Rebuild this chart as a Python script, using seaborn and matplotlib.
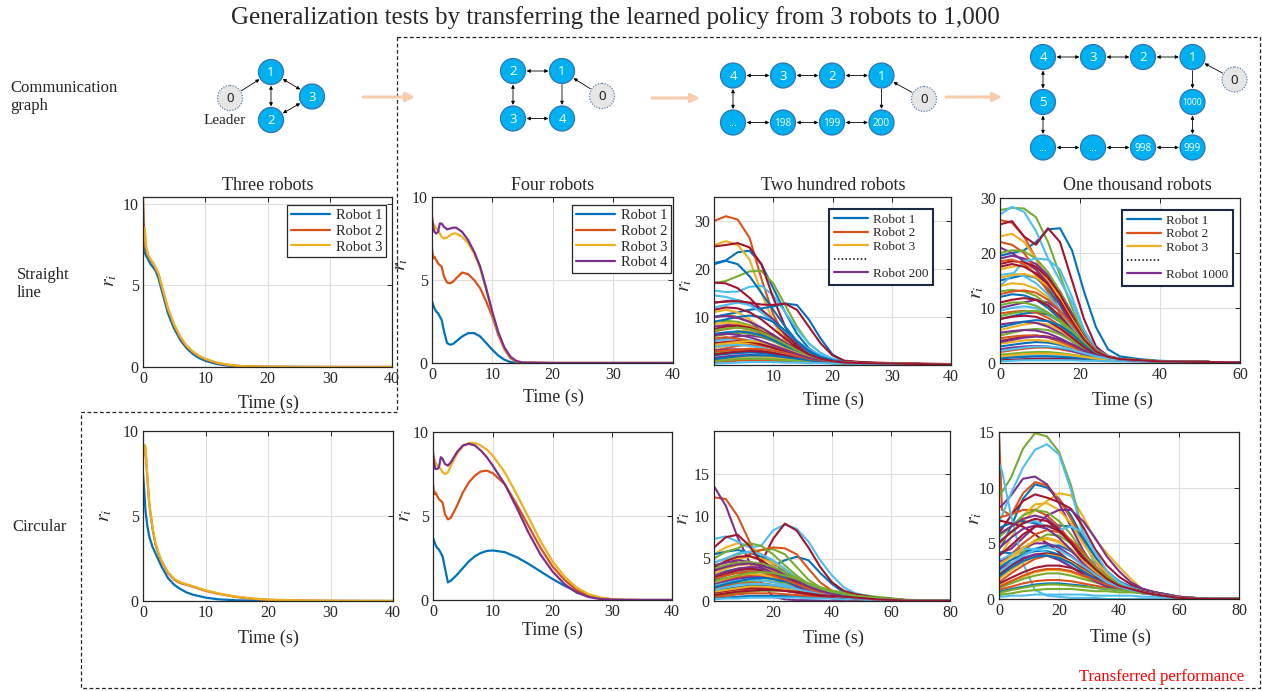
import numpy as np
import pandas as pd
import matplotlib
matplotlib.use("Agg")
import matplotlib.pyplot as plt
import seaborn as sns
from matplotlib.patches import Circle
from matplotlib.lines import Line2D

# ---------------------------------------------------------------- data
MATLAB = ["#0072BD", "#D95319", "#EDB120", "#7E2F8E", "#77AC30", "#4DBEEE", "#A2142F"]

# Three robots, straight line
T3S = [0, 0.15, 0.3, 0.5, 0.8, 1.2, 1.6, 2, 2.5, 3, 3.5, 4, 4.5, 5, 6, 7, 8, 9, 10, 12, 14, 16, 20, 30, 40]
S3_R1 = [7.5, 7.2, 7.0, 6.8, 6.6, 6.3, 6.1, 5.9, 5.4, 4.7, 4.0, 3.3, 2.8, 2.35, 1.65, 1.15, 0.8, 0.55, 0.38, 0.17, 0.07, 0.03, 0.01, 0, 0]
S3_R2 = [10.4, 8.6, 7.6, 7.2, 6.85, 6.55, 6.35, 6.05, 5.65, 4.95, 4.25, 3.55, 3.05, 2.55, 1.8, 1.27, 0.92, 0.66, 0.48, 0.24, 0.11, 0.05, 0.01, 0, 0]
S3_R3 = [7.4, 8.0, 8.5, 7.4, 6.9, 6.6, 6.4, 6.1, 5.7, 5.0, 4.3, 3.6, 3.1, 2.6, 1.85, 1.3, 0.95, 0.68, 0.5, 0.25, 0.12, 0.05, 0.01, 0, 0]

# Four robots, straight line
T4S = [0, 0.2, 0.4, 0.7, 1, 1.3, 1.6, 2, 2.5, 3, 3.5, 4, 5, 6, 7, 8, 9, 10, 11, 12, 13, 14, 15, 20, 30, 40]
S4_R1 = [3.7, 3.5, 3.3, 3.1, 3.0, 2.8, 2.6, 1.9, 1.2, 1.1, 1.15, 1.3, 1.6, 1.8, 1.8, 1.6, 1.2, 0.8, 0.45, 0.2, 0.06, 0.01, 0, 0, 0, 0]
S4_R2 = [6.9, 6.3, 6.4, 6.2, 6.0, 5.9, 5.8, 5.2, 4.85, 4.8, 4.9, 5.1, 5.45, 5.35, 5.0, 4.5, 3.7, 2.8, 1.7, 0.85, 0.3, 0.08, 0.02, 0, 0, 0]
S4_R3 = [8.6, 8.4, 8.3, 8.1, 8.0, 7.8, 7.6, 7.5, 7.55, 7.7, 7.8, 7.8, 7.6, 7.2, 6.6, 5.7, 4.4, 3.0, 1.8, 0.9, 0.35, 0.1, 0.03, 0, 0, 0]
S4_R4 = [8.8, 8.2, 7.9, 7.8, 7.9, 8.4, 8.4, 8.2, 8.05, 8.1, 8.15, 8.15, 7.9, 7.4, 6.7, 5.8, 4.5, 3.1, 1.85, 0.95, 0.38, 0.12, 0.03, 0, 0, 0]

# Two hundred robots, straight line (representative curves)
T200S = [0, 2, 4, 6, 8, 10, 12, 14, 16, 18, 20, 22, 25, 30, 35, 40]
S200 = [
    [21.2, 21.8, 23.5, 23.8, 21, 16, 11, 6.5, 3.5, 1.8, 1.0, 0.6, 0.4, 0.2, 0.1, 0.05],
    [30, 31, 30.3, 26.5, 18, 10.5, 6, 3, 1.5, 0.8, 0.5, 0.4, 0.3, 0.2, 0.1, 0.05],
    [25, 25.8, 25, 22, 15, 9, 5, 2.5, 1.2, 0.7, 0.5, 0.4, 0.3, 0.2, 0.1, 0.05],
    [13, 13.3, 13.5, 12.8, 11.5, 9.5, 7, 4.5, 2.5, 1.3, 0.7, 0.5, 0.4, 0.3, 0.2, 0.1],
    [17, 17.5, 18.5, 19.5, 19.6, 17, 12.5, 8, 4.5, 2.5, 1.2, 0.7, 0.5, 0.3, 0.2, 0.1],
    [15.5, 15.2, 15.3, 16.3, 16.5, 14.5, 11, 7.5, 4.5, 2.5, 1.3, 0.8, 0.5, 0.3, 0.2, 0.1],
    [24.7, 25, 25.4, 24.5, 21, 14, 8, 4.2, 2, 1, 0.6, 0.4, 0.3, 0.2, 0.1, 0.05],
    [21, 21.7, 21, 18.5, 15, 11.5, 8, 5, 2.8, 1.5, 0.8, 0.5, 0.4, 0.3, 0.2, 0.1],
    [10, 10.5, 10, 9, 7.5, 6, 4.5, 3, 1.8, 1, 0.6, 0.4, 0.3, 0.2, 0.1, 0.05],
    [6, 6.5, 7, 7.2, 7, 6, 4.5, 3, 1.8, 1, 0.6, 0.4, 0.3, 0.2, 0.1, 0.05],
    [8, 8.3, 8.5, 8.2, 7.5, 6, 4.5, 3, 1.8, 1, 0.6, 0.5, 0.4, 0.3, 0.2, 0.1],
    [9, 9.2, 9, 8.3, 7, 5.5, 4, 2.5, 1.5, 0.9, 0.6, 0.4, 0.3, 0.2, 0.1, 0.05],
    [14.5, 14.2, 13.5, 12.5, 11, 9, 6.5, 4, 2.3, 1.2, 0.7, 0.5, 0.4, 0.3, 0.2, 0.1],
    [17.2, 17, 16, 14, 11.5, 9, 6.5, 4, 2.2, 1.2, 0.7, 0.5, 0.4, 0.3, 0.2, 0.1],
    [10, 10.5, 11, 11.5, 11.8, 12.2, 12.8, 12.5, 9.5, 5.5, 2.2, 0.8, 0.5, 0.3, 0.2, 0.1],
    [7, 7.5, 7.8, 7.5, 6.5, 5.2, 4, 2.8, 1.8, 1.1, 0.7, 0.5, 0.4, 0.3, 0.2, 0.1],
    [11, 11.5, 11, 9.5, 7.5, 5.5, 3.8, 2.4, 1.5, 1, 0.7, 0.5, 0.4, 0.3, 0.2, 0.1],
    [5, 5.5, 6, 6.2, 5.8, 5, 3.8, 2.6, 1.6, 1, 0.6, 0.5, 0.4, 0.3, 0.2, 0.1],
    [4, 4.2, 4.5, 4.6, 4.3, 3.7, 3, 2.2, 1.5, 1, 0.7, 0.5, 0.4, 0.3, 0.2, 0.1],
    [12, 12.5, 13, 12.5, 11, 9, 7, 5, 3.3, 2, 1.2, 0.7, 0.5, 0.3, 0.2, 0.1],
    [13, 13.2, 13.3, 13, 12.6, 12.5, 12.8, 11.5, 8, 4.5, 2, 0.9, 0.6, 0.4, 0.3, 0.2],
    [9, 9.5, 10, 10.3, 10, 9, 7.2, 5, 3, 1.7, 1, 0.6, 0.4, 0.3, 0.2, 0.1],
    [3, 3.5, 4, 4.2, 4, 3.5, 2.8, 2, 1.4, 0.9, 0.6, 0.5, 0.4, 0.3, 0.2, 0.1],
    [8.5, 8.8, 8.6, 8, 7, 5.7, 4.2, 2.8, 1.7, 1, 0.6, 0.5, 0.4, 0.3, 0.2, 0.1],
    [10, 10.2, 9.8, 9, 7.8, 6.3, 4.7, 3.2, 2, 1.2, 0.7, 0.5, 0.4, 0.3, 0.2, 0.1],
    [6, 6.4, 6.7, 6.6, 6, 5, 3.8, 2.6, 1.6, 1, 0.6, 0.5, 0.4, 0.3, 0.2, 0.1],
    [5, 5.3, 5.5, 5.2, 4.6, 3.8, 2.9, 2, 1.3, 0.8, 0.5, 0.4, 0.3, 0.2, 0.1, 0.05],
    [7.5, 8, 8.2, 7.8, 7, 5.8, 4.4, 3, 1.9, 1.1, 0.7, 0.5, 0.4, 0.3, 0.2, 0.1],
    [2, 2.3, 2.5, 2.6, 2.5, 2.2, 1.8, 1.4, 1, 0.7, 0.5, 0.4, 0.3, 0.2, 0.1, 0.05],
    [5.5, 5.8, 5.5, 5, 4.3, 3.5, 2.6, 1.8, 1.2, 0.8, 0.5, 0.4, 0.3, 0.2, 0.1, 0.05],
    [3.5, 4, 4.4, 4.6, 4.4, 3.8, 3, 2.2, 1.5, 1, 0.6, 0.5, 0.4, 0.3, 0.2, 0.1],
    [1.5, 1.8, 2, 2.1, 2, 1.8, 1.5, 1.2, 0.9, 0.6, 0.4, 0.3, 0.3, 0.2, 0.1, 0.05],
    [2.5, 2.8, 3, 3.2, 3.1, 2.8, 2.3, 1.7, 1.2, 0.8, 0.5, 0.4, 0.3, 0.2, 0.1, 0.05],
    [1, 1.2, 1.4, 1.5, 1.5, 1.3, 1.1, 0.9, 0.7, 0.5, 0.4, 0.3, 0.2, 0.2, 0.1, 0.05],
    [4.5, 4.8, 5, 4.8, 4.3, 3.6, 2.8, 2, 1.4, 0.9, 0.6, 0.4, 0.3, 0.2, 0.1, 0.05],
    [6.5, 6.8, 7, 6.8, 6.2, 5.2, 4, 2.8, 1.8, 1.1, 0.7, 0.5, 0.4, 0.3, 0.2, 0.1],
    [0.5, 0.7, 0.9, 1, 1, 0.9, 0.8, 0.7, 0.6, 0.5, 0.4, 0.3, 0.2, 0.2, 0.1, 0.05],
    [1, 1.3, 1.6, 1.8, 1.8, 1.6, 1.3, 1, 0.8, 0.6, 0.4, 0.3, 0.3, 0.2, 0.1, 0.05],
    [3, 3.2, 3.3, 3.2, 2.9, 2.5, 2, 1.5, 1.1, 0.8, 0.5, 0.4, 0.3, 0.2, 0.1, 0.05],
    [0.8, 1, 1.2, 1.3, 1.3, 1.2, 1, 0.8, 0.6, 0.5, 0.4, 0.3, 0.2, 0.2, 0.1, 0.05],
    [3.8, 4, 4.2, 4, 3.6, 3, 2.4, 1.7, 1.2, 0.8, 0.5, 0.4, 0.3, 0.2, 0.1, 0.05],
    [2.2, 2.5, 2.8, 2.9, 2.8, 2.5, 2, 1.5, 1.1, 0.7, 0.5, 0.4, 0.3, 0.2, 0.1, 0.05],
    [1.2, 1.5, 1.8, 2, 2, 1.9, 1.6, 1.3, 1, 0.7, 0.5, 0.4, 0.3, 0.2, 0.1, 0.05],
    [2.8, 3, 3.2, 3.4, 3.3, 3, 2.5, 1.9, 1.3, 0.9, 0.6, 0.4, 0.3, 0.2, 0.1, 0.05],
    [4.2, 4.5, 4.8, 5, 4.8, 4.2, 3.4, 2.5, 1.7, 1.1, 0.7, 0.5, 0.4, 0.3, 0.2, 0.1],
    [6.2, 6.5, 6.3, 5.8, 5, 4.1, 3.2, 2.3, 1.5, 1, 0.6, 0.5, 0.4, 0.3, 0.2, 0.1],
    [7.2, 7.6, 7.8, 7.5, 6.8, 5.7, 4.4, 3.1, 2, 1.2, 0.7, 0.5, 0.4, 0.3, 0.2, 0.1],
    [0.3, 0.4, 0.5, 0.6, 0.6, 0.6, 0.5, 0.5, 0.4, 0.4, 0.3, 0.3, 0.2, 0.2, 0.1, 0.05],
    [11.5, 12, 11.8, 11, 9.5, 7.5, 5.5, 3.6, 2.2, 1.3, 0.8, 0.5, 0.4, 0.3, 0.2, 0.1],
]

# One thousand robots, straight line (representative curves)
T1000S = [0, 3, 6, 9, 12, 15, 18, 21, 24, 27, 30, 35, 40, 50, 60]
S1000 = [
    [19.5, 20, 20.5, 22, 24.3, 24.5, 20.5, 13, 6.5, 2.5, 1.2, 0.7, 0.4, 0.2, 0.1],
    [26, 25.5, 23, 19, 14, 9, 5, 2.5, 1.2, 0.8, 0.6, 0.4, 0.3, 0.2, 0.1],
    [23, 23.5, 22, 19, 15, 10.5, 6.5, 3.5, 1.8, 1, 0.7, 0.5, 0.3, 0.2, 0.1],
    [19, 19.5, 19, 18, 16, 13, 9, 5.5, 2.8, 1.3, 0.8, 0.5, 0.3, 0.2, 0.1],
    [27.8, 28.2, 28.1, 26.5, 22, 16, 10, 5, 2, 1, 0.7, 0.5, 0.3, 0.2, 0.1],
    [27, 28.4, 27.5, 24, 19, 15, 11, 6, 2.5, 1.2, 0.7, 0.5, 0.3, 0.2, 0.1],
    [25.2, 25.8, 23, 21.5, 24.5, 22, 15, 8, 3, 1.2, 0.7, 0.5, 0.3, 0.2, 0.1],
    [15, 15.5, 16, 15.5, 13.5, 10.5, 7, 4, 2, 1, 0.7, 0.5, 0.3, 0.2, 0.1],
    [22, 21.5, 20, 17, 13, 9, 5.5, 3, 1.5, 0.9, 0.7, 0.5, 0.3, 0.2, 0.1],
    [17, 17.5, 17.8, 17, 15, 12, 8, 4.5, 2.2, 1.1, 0.7, 0.5, 0.3, 0.2, 0.1],
    [21, 20, 18.5, 17, 14.5, 11, 7, 3.8, 1.8, 1, 0.7, 0.5, 0.3, 0.2, 0.1],
    [20, 20.5, 20.3, 19, 16.5, 13, 8.5, 4.5, 2, 1, 0.7, 0.5, 0.3, 0.2, 0.1],
    [14, 16, 18.5, 19, 18.8, 17, 12, 6, 2.5, 1.2, 0.7, 0.5, 0.3, 0.2, 0.1],
    [18, 18.5, 18.3, 17.5, 15.5, 12.5, 8.5, 4.8, 2.3, 1.1, 0.7, 0.5, 0.3, 0.2, 0.1],
    [12, 12.5, 12.3, 11.5, 10, 8, 5.5, 3.2, 1.7, 1, 0.7, 0.5, 0.3, 0.2, 0.1],
    [18.5, 18.8, 18, 16, 13, 9.5, 6, 3.3, 1.7, 1, 0.7, 0.5, 0.3, 0.2, 0.1],
    [14, 14.5, 14.3, 13.5, 12, 9.5, 6.5, 3.8, 2, 1.1, 0.7, 0.5, 0.3, 0.2, 0.1],
    [10, 10.5, 11, 11.5, 11, 9.5, 7, 4.2, 2.2, 1.1, 0.7, 0.5, 0.3, 0.2, 0.1],
    [13, 13.3, 13, 12.2, 10.5, 8.5, 6, 3.5, 1.8, 1, 0.7, 0.5, 0.3, 0.2, 0.1],
    [16, 16.3, 15.8, 14.5, 12.5, 9.5, 6.5, 3.8, 2, 1.1, 0.7, 0.5, 0.3, 0.2, 0.1],
    [11, 11.5, 11.8, 11.5, 10.5, 8.5, 6, 3.5, 1.8, 1, 0.7, 0.5, 0.3, 0.2, 0.1],
    [8, 8.5, 9, 9.2, 8.8, 7.5, 5.5, 3.3, 1.8, 1, 0.7, 0.5, 0.3, 0.2, 0.1],
    [9, 9.3, 9.5, 9.2, 8.2, 6.8, 5, 3, 1.7, 1, 0.7, 0.5, 0.3, 0.2, 0.1],
    [6, 6.5, 7, 7.3, 7, 6, 4.5, 2.8, 1.6, 0.9, 0.6, 0.4, 0.3, 0.2, 0.1],
    [7, 7.3, 7.5, 7.3, 6.6, 5.5, 4, 2.6, 1.5, 0.9, 0.6, 0.4, 0.3, 0.2, 0.1],
    [5, 5.5, 6, 6.2, 6, 5.2, 4, 2.6, 1.5, 0.9, 0.6, 0.4, 0.3, 0.2, 0.1],
    [9.5, 10, 10.3, 10, 9, 7.5, 5.5, 3.3, 1.8, 1, 0.7, 0.5, 0.3, 0.2, 0.1],
    [4, 4.4, 4.8, 5, 4.8, 4.2, 3.3, 2.2, 1.4, 0.9, 0.6, 0.4, 0.3, 0.2, 0.1],
    [3, 3.3, 3.6, 3.8, 3.7, 3.3, 2.7, 1.9, 1.2, 0.8, 0.6, 0.4, 0.3, 0.2, 0.1],
    [2, 2.3, 2.6, 2.8, 2.8, 2.5, 2.1, 1.6, 1.1, 0.8, 0.6, 0.4, 0.3, 0.2, 0.1],
    [3.5, 3.8, 4.1, 4.2, 4, 3.5, 2.8, 2, 1.3, 0.8, 0.6, 0.4, 0.3, 0.2, 0.1],
    [2.5, 2.8, 3, 3.1, 3, 2.7, 2.2, 1.6, 1.1, 0.8, 0.6, 0.4, 0.3, 0.2, 0.1],
    [1.5, 1.7, 1.9, 2, 2, 1.8, 1.5, 1.2, 0.9, 0.7, 0.5, 0.4, 0.3, 0.2, 0.1],
    [1, 1.2, 1.3, 1.4, 1.4, 1.3, 1.1, 0.9, 0.7, 0.6, 0.5, 0.4, 0.3, 0.2, 0.1],
    [0.5, 0.6, 0.7, 0.8, 0.8, 0.8, 0.7, 0.6, 0.5, 0.4, 0.4, 0.3, 0.3, 0.2, 0.1],
    [0.8, 1, 1.1, 1.2, 1.2, 1.1, 1, 0.8, 0.7, 0.6, 0.5, 0.4, 0.3, 0.2, 0.1],
    [4.5, 4.8, 5, 5, 4.6, 3.9, 3, 2, 1.3, 0.8, 0.6, 0.4, 0.3, 0.2, 0.1],
    [1.2, 1.4, 1.6, 1.7, 1.7, 1.6, 1.4, 1.1, 0.8, 0.6, 0.5, 0.4, 0.3, 0.2, 0.1],
    [5.5, 5.8, 6, 5.9, 5.4, 4.5, 3.4, 2.2, 1.4, 0.9, 0.6, 0.4, 0.3, 0.2, 0.1],
    [10.5, 11, 11, 10.4, 9.2, 7.5, 5.3, 3.2, 1.7, 1, 0.7, 0.5, 0.3, 0.2, 0.1],
    [0.3, 0.4, 0.5, 0.5, 0.5, 0.5, 0.5, 0.4, 0.4, 0.3, 0.3, 0.3, 0.2, 0.2, 0.1],
    [8, 8.4, 8.6, 8.4, 7.6, 6.3, 4.6, 2.9, 1.6, 0.9, 0.6, 0.4, 0.3, 0.2, 0.1],
    [6.5, 7, 7.5, 7.8, 7.6, 6.8, 5.3, 3.4, 1.9, 1.1, 0.7, 0.5, 0.3, 0.2, 0.1],
    [12.5, 13, 13.2, 12.8, 11.5, 9.5, 7, 4.3, 2.2, 1.1, 0.7, 0.5, 0.3, 0.2, 0.1],
    [15.5, 16, 16.2, 15.6, 14, 11.5, 8, 4.6, 2.2, 1.1, 0.7, 0.5, 0.3, 0.2, 0.1],
    [3.8, 4.2, 4.6, 4.8, 4.7, 4.2, 3.4, 2.3, 1.4, 0.9, 0.6, 0.4, 0.3, 0.2, 0.1],
    [8.5, 9, 9.4, 9.5, 9, 7.8, 5.9, 3.8, 2, 1.1, 0.7, 0.5, 0.3, 0.2, 0.1],
    [2.2, 2.5, 2.8, 3, 3, 2.8, 2.4, 1.8, 1.2, 0.8, 0.6, 0.4, 0.3, 0.2, 0.1],
    [17.5, 18, 17.5, 16.3, 14.3, 11.3, 7.6, 4.3, 2.1, 1.1, 0.7, 0.5, 0.3, 0.2, 0.1],
]

# Three robots, circular
T3C = [0, 0.2, 0.4, 0.7, 1, 1.5, 2, 2.5, 3, 4, 5, 6, 7, 8, 10, 12, 15, 18, 20, 25, 30, 40]
C3_R1 = [7.5, 6.5, 5.3, 4.4, 3.8, 3.2, 2.8, 2.4, 2.0, 1.35, 0.95, 0.7, 0.5, 0.37, 0.2, 0.1, 0.04, 0.02, 0.01, 0, 0, 0]
C3_R2 = [8.5, 9.0, 8.9, 7.2, 5.7, 4.3, 3.3, 2.75, 2.3, 1.65, 1.25, 1.05, 0.95, 0.84, 0.6, 0.43, 0.23, 0.12, 0.07, 0.03, 0.01, 0]
C3_R3 = [8.3, 9.2, 9.1, 7.3, 5.8, 4.4, 3.4, 2.8, 2.35, 1.7, 1.3, 1.1, 0.98, 0.87, 0.63, 0.45, 0.25, 0.13, 0.08, 0.03, 0.01, 0]

# Four robots, circular
T4C = [0, 0.2, 0.4, 0.7, 1, 1.3, 1.6, 2, 2.5, 3, 4, 5, 6, 7, 8, 9, 10, 12, 14, 16, 18, 20, 22, 24, 26, 28, 30, 32, 35, 40]
C4_R1 = [3.7, 3.5, 3.3, 3.1, 3.0, 2.8, 2.6, 1.9, 1.05, 1.15, 1.5, 1.9, 2.3, 2.6, 2.8, 2.92, 2.95, 2.85, 2.55, 2.15, 1.7, 1.25, 0.85, 0.5, 0.25, 0.1, 0.03, 0.01, 0, 0]
C4_R2 = [6.9, 6.3, 6.4, 6.2, 6.0, 5.9, 5.8, 5.1, 4.8, 4.9, 5.6, 6.4, 7.0, 7.4, 7.65, 7.7, 7.55, 6.9, 5.7, 4.4, 3.1, 2.0, 1.2, 0.6, 0.3, 0.12, 0.04, 0.01, 0, 0]
C4_R3 = [8.6, 8.4, 8.2, 8.0, 7.9, 7.8, 7.6, 7.5, 7.6, 8.0, 8.7, 9.15, 9.35, 9.35, 9.2, 8.95, 8.6, 7.6, 6.3, 4.9, 3.5, 2.3, 1.4, 0.75, 0.35, 0.15, 0.05, 0.01, 0, 0]
C4_R4 = [8.8, 8.1, 7.8, 7.8, 7.9, 8.5, 8.4, 8.1, 8.0, 8.2, 8.8, 9.2, 9.3, 9.2, 8.9, 8.5, 8.0, 6.9, 5.5, 4.0, 2.7, 1.7, 0.95, 0.45, 0.18, 0.06, 0.02, 0, 0, 0]

# Two hundred robots, circular (representative curves)
T200C = [0, 4, 8, 12, 16, 20, 24, 28, 32, 36, 40, 44, 48, 55, 65, 80]
C200 = [
    [3, 3.5, 3.8, 3.8, 3.7, 4.1, 4.8, 5.2, 4.8, 3.3, 2, 1, 0.6, 0.3, 0.1, 0],
    [12.2, 12, 10, 7, 4.5, 3, 2, 1.5, 1, 0.7, 0.5, 0.4, 0.3, 0.2, 0.1, 0],
    [5.5, 6.3, 6.8, 6.5, 5.5, 4.2, 3, 2, 1.3, 0.9, 0.6, 0.4, 0.3, 0.2, 0.1, 0],
    [13.5, 11.2, 7.5, 4.6, 2.2, 0.5, 0.2, 0.1, 0.1, 0.05, 0, 0, 0, 0, 0, 0],
    [4.5, 5, 5.5, 5.8, 6, 6.1, 5.5, 4, 2.5, 1.6, 1.2, 1, 0.8, 0.5, 0.15, 0],
    [7.3, 7.6, 7, 6.3, 6.5, 8.3, 9, 8.5, 7, 4.8, 3, 1.6, 0.9, 0.4, 0.1, 0],
    [2, 2.5, 3, 3.6, 4.5, 7.3, 9.1, 8.3, 6.3, 4, 2.2, 1.2, 0.8, 0.4, 0.1, 0],
    [5.5, 5.8, 6, 5.7, 5.2, 4.5, 3.5, 2.5, 1.8, 1.2, 0.8, 0.5, 0.3, 0.2, 0.05, 0],
    [3.5, 4, 4.8, 5.5, 6, 6.3, 6.2, 5.5, 3.8, 2.2, 1.2, 0.7, 0.4, 0.2, 0.05, 0],
    [4, 4.5, 5, 5.2, 5, 4.5, 3.7, 2.8, 2, 1.3, 0.8, 0.5, 0.3, 0.2, 0.05, 0],
    [3, 3.4, 3.8, 4, 3.9, 3.5, 2.9, 2.2, 1.5, 1, 0.6, 0.4, 0.3, 0.2, 0.05, 0],
    [5, 5.8, 6.2, 6.8, 6.5, 5.5, 4.2, 3, 2, 1.4, 1, 0.7, 0.5, 0.3, 0.1, 0],
    [4.5, 5, 5.6, 5.8, 5.5, 4.8, 3.8, 2.7, 1.8, 1.2, 0.8, 0.5, 0.3, 0.2, 0.05, 0],
    [6.3, 7.5, 7.8, 6.5, 4.5, 2.8, 1.8, 1.2, 0.8, 0.5, 0.3, 0.2, 0.1, 0, 0, 0],
    [2.5, 3, 3.4, 3.6, 3.5, 3.2, 2.7, 2.1, 1.5, 1, 0.7, 0.5, 0.3, 0.2, 0.05, 0],
    [2, 2.4, 2.8, 3, 3, 2.8, 2.4, 1.9, 1.4, 1, 0.7, 0.5, 0.3, 0.2, 0.05, 0],
    [3.2, 3.8, 4.2, 4.3, 4.1, 3.6, 3, 2.3, 1.6, 1.1, 0.7, 0.5, 0.3, 0.2, 0.05, 0],
    [2, 2.3, 2.6, 2.8, 2.8, 2.6, 2.2, 1.8, 1.3, 0.9, 0.6, 0.4, 0.3, 0.2, 0.05, 0],
    [1.5, 1.8, 2.1, 2.3, 2.4, 2.3, 2.1, 1.8, 1.5, 1.2, 1, 0.8, 0.6, 0.4, 0.1, 0],
    [2.8, 3.2, 3.5, 3.6, 3.4, 3, 2.5, 1.9, 1.4, 1, 0.7, 0.5, 0.3, 0.2, 0.05, 0],
    [4, 4.7, 5.2, 5.3, 4.8, 3.9, 3, 2.2, 1.5, 1, 0.6, 0.4, 0.3, 0.2, 0.05, 0],
    [1.2, 1.4, 1.6, 1.8, 1.8, 1.7, 1.5, 1.3, 1.1, 0.9, 0.7, 0.5, 0.4, 0.2, 0.05, 0],
    [1.5, 1.8, 2, 2.1, 2.1, 1.9, 1.7, 1.4, 1.1, 0.8, 0.6, 0.4, 0.3, 0.2, 0.05, 0],
    [0.8, 1, 1.2, 1.3, 1.4, 1.4, 1.3, 1.2, 1, 0.8, 0.6, 0.5, 0.4, 0.2, 0.05, 0],
    [1, 1.2, 1.4, 1.5, 1.5, 1.4, 1.2, 1, 0.8, 0.6, 0.5, 0.4, 0.3, 0.2, 0.05, 0],
    [0.6, 0.8, 1, 1.1, 1.2, 1.2, 1.2, 1.1, 1, 0.9, 0.8, 0.7, 0.5, 0.3, 0.1, 0],
    [1.8, 2.1, 2.4, 2.5, 2.4, 2.2, 1.9, 1.5, 1.1, 0.8, 0.6, 0.4, 0.3, 0.2, 0.05, 0],
    [2.8, 3.2, 3.6, 3.8, 3.6, 3.1, 2.5, 1.9, 1.4, 1, 0.7, 0.5, 0.3, 0.2, 0.05, 0],
    [0.3, 0.4, 0.5, 0.6, 0.6, 0.6, 0.6, 0.5, 0.5, 0.4, 0.4, 0.3, 0.3, 0.2, 0.05, 0],
    [0.5, 0.6, 0.8, 0.9, 0.9, 0.9, 0.8, 0.7, 0.6, 0.5, 0.4, 0.3, 0.3, 0.2, 0.05, 0],
    [2.2, 2.6, 3, 3.2, 3.1, 2.8, 2.3, 1.8, 1.3, 0.9, 0.6, 0.4, 0.3, 0.2, 0.05, 0],
    [4.2, 4.5, 4.8, 4.6, 4, 3.2, 2.4, 1.7, 1.2, 0.8, 0.5, 0.4, 0.3, 0.2, 0.05, 0],
    [3.8, 4.2, 4.5, 4.6, 4.4, 4, 3.4, 2.7, 2, 1.4, 1, 0.8, 0.6, 0.3, 0.1, 0],
    [0.2, 0.3, 0.3, 0.4, 0.4, 0.4, 0.4, 0.4, 0.3, 0.3, 0.3, 0.2, 0.2, 0.1, 0.05, 0],
    [1, 1.2, 1.4, 1.5, 1.5, 1.4, 1.2, 1, 0.8, 0.6, 0.5, 0.4, 0.3, 0.2, 0.05, 0],
    [1.6, 2, 2.3, 2.6, 2.7, 2.6, 2.3, 1.9, 1.5, 1.1, 0.8, 0.6, 0.4, 0.2, 0.05, 0],
    [2.6, 3, 3.3, 3.5, 3.4, 3, 2.5, 2, 1.5, 1, 0.7, 0.5, 0.3, 0.2, 0.05, 0],
    [1.1, 1.3, 1.5, 1.7, 1.7, 1.6, 1.4, 1.2, 1, 0.8, 0.6, 0.5, 0.4, 0.2, 0.05, 0],
    [3.6, 4, 4.3, 4.4, 4.2, 3.7, 3.1, 2.4, 1.7, 1.2, 0.8, 0.5, 0.3, 0.2, 0.05, 0],
    [2.3, 2.7, 3, 3.3, 3.4, 3.3, 3, 2.6, 2.1, 1.6, 1.2, 0.9, 0.6, 0.3, 0.1, 0],
    [1.3, 1.6, 1.9, 2, 2, 1.9, 1.7, 1.4, 1.1, 0.8, 0.6, 0.4, 0.3, 0.2, 0.05, 0],
    [0.7, 0.9, 1.1, 1.2, 1.3, 1.3, 1.2, 1.1, 0.9, 0.7, 0.6, 0.5, 0.4, 0.2, 0.05, 0],
]

# One thousand robots, circular (representative curves)
T1000C = [0, 1, 4, 8, 12, 16, 20, 24, 28, 32, 36, 40, 44, 48, 52, 60, 70, 80]
C1000 = [
    [4.5, 4.8, 6.5, 9, 10.3, 10, 9, 7.5, 5.5, 3.8, 2.5, 1.6, 1.1, 0.8, 0.6, 0.2, 0, 0],
    [15, 8, 7.5, 9.5, 10.5, 10.2, 9, 7.2, 5.2, 3.4, 2.2, 1.4, 1, 0.7, 0.5, 0.2, 0, 0],
    [5, 5.2, 6, 7, 8, 8.8, 9.5, 9.3, 7.4, 5.4, 4.1, 2.9, 1.8, 0.8, 0.6, 0.2, 0, 0],
    [8.2, 8.4, 9.3, 10.8, 11, 10.3, 8.6, 6.5, 4.4, 2.7, 1.6, 1.1, 0.8, 0.6, 0.4, 0.1, 0, 0],
    [9.3, 9.6, 10.9, 13.5, 14.9, 14.6, 13.2, 10.2, 6, 3, 1.5, 1, 0.8, 0.6, 0.4, 0.1, 0, 0],
    [6.8, 7.5, 9.5, 11.8, 13.4, 13.9, 13, 9.8, 5.8, 3, 1.6, 1, 0.8, 0.6, 0.4, 0.1, 0, 0],
    [6, 6.3, 7.5, 8.8, 9.4, 9.1, 8.7, 8.1, 6.5, 4.5, 3, 2, 1.3, 0.9, 0.6, 0.2, 0, 0],
    [6.3, 6.5, 6.8, 7, 6.8, 6.5, 6.6, 6.5, 5.5, 3.8, 2.4, 1.5, 1, 0.8, 0.6, 0.2, 0, 0],
    [7.3, 7.4, 7.6, 8, 8, 7.5, 6.5, 5.2, 3.8, 2.5, 1.6, 1.1, 0.8, 0.6, 0.4, 0.1, 0, 0],
    [3.8, 4.2, 5.5, 7.5, 8.5, 8.6, 8, 6.8, 5, 3.5, 2.3, 1.5, 1, 0.7, 0.5, 0.2, 0, 0],
    [4, 4.2, 4.5, 5.5, 6.5, 7.5, 8, 8, 7, 5.5, 3.8, 2.5, 1.5, 0.9, 0.6, 0.2, 0, 0],
    [5.5, 5.8, 6.5, 7.5, 8, 7.8, 7, 5.8, 4.2, 2.8, 1.8, 1.2, 0.9, 0.6, 0.4, 0.1, 0, 0],
    [12.2, 11.5, 7.5, 3.2, 0.8, 0.3, 0.2, 0.1, 0.1, 0.1, 0, 0, 0, 0, 0, 0, 0, 0],
    [7, 7, 6.8, 6.5, 5.8, 5, 4.2, 3.3, 2.5, 1.8, 1.3, 1, 0.8, 0.6, 0.4, 0.1, 0, 0],
    [4.2, 4.2, 4.1, 4.2, 4.5, 4.8, 4.8, 4.3, 3.5, 2.6, 1.8, 1.2, 0.9, 0.6, 0.4, 0.1, 0, 0],
    [3, 3.2, 4, 5, 5.8, 6.2, 6, 5.3, 4.2, 3, 2, 1.3, 0.9, 0.6, 0.4, 0.1, 0, 0],
    [2.5, 2.8, 3.5, 4.5, 5.3, 5.5, 5.2, 4.5, 3.5, 2.5, 1.7, 1.2, 0.9, 0.6, 0.4, 0.1, 0, 0],
    [5.8, 6, 6.5, 7.2, 7.5, 7.2, 6.3, 5, 3.7, 2.6, 1.7, 1.2, 0.9, 0.6, 0.4, 0.1, 0, 0],
    [2, 2.3, 3, 4.2, 5.2, 5.8, 5.7, 5, 4, 2.9, 2, 1.4, 1, 0.7, 0.5, 0.1, 0, 0],
    [5.2, 5.4, 6, 6.8, 7, 6.5, 6.2, 6.5, 6, 4.2, 2.5, 1.5, 1, 0.7, 0.5, 0.1, 0, 0],
    [5, 5.3, 6, 6.8, 7.2, 7, 6.2, 5, 3.6, 2.4, 1.6, 1.1, 0.8, 0.6, 0.4, 0.1, 0, 0],
    [2.8, 3, 3.5, 4, 4.3, 4.3, 4, 3.4, 2.7, 2, 1.4, 1, 0.8, 0.6, 0.4, 0.1, 0, 0],
    [1.5, 1.7, 2.3, 3, 3.6, 3.9, 3.8, 3.4, 2.8, 2.1, 1.5, 1.1, 0.8, 0.6, 0.4, 0.1, 0, 0],
    [1.2, 1.3, 1.6, 2, 2.4, 2.6, 2.6, 2.4, 2, 1.6, 1.2, 1, 0.8, 0.6, 0.4, 0.1, 0, 0],
    [3.3, 3.5, 4, 4.6, 5, 5, 4.6, 3.9, 3, 2.2, 1.5, 1.1, 0.8, 0.6, 0.4, 0.1, 0, 0],
    [1, 1.1, 1.4, 1.8, 2.1, 2.3, 2.3, 2.1, 1.8, 1.5, 1.2, 1, 0.8, 0.6, 0.4, 0.1, 0, 0],
    [3.5, 3.6, 4, 4.5, 4.5, 4.2, 3.6, 2.9, 2.2, 1.6, 1.2, 0.9, 0.7, 0.5, 0.4, 0.1, 0, 0],
    [2.2, 2.4, 3, 3.6, 4, 4.1, 3.9, 3.4, 2.7, 2, 1.4, 1, 0.8, 0.6, 0.4, 0.1, 0, 0],
    [0.6, 0.7, 0.9, 1.1, 1.3, 1.4, 1.4, 1.3, 1.2, 1, 0.9, 0.8, 0.7, 0.6, 0.4, 0.1, 0, 0],
    [0.8, 0.9, 1.1, 1.4, 1.6, 1.7, 1.7, 1.6, 1.4, 1.2, 1, 0.9, 0.8, 0.6, 0.4, 0.1, 0, 0],
    [1.8, 2, 2.6, 3.3, 3.8, 4, 3.8, 3.3, 2.6, 1.9, 1.3, 1, 0.8, 0.6, 0.4, 0.1, 0, 0],
    [2.6, 2.8, 3.2, 3.7, 4, 3.9, 3.5, 2.9, 2.2, 1.6, 1.1, 0.9, 0.7, 0.5, 0.4, 0.1, 0, 0],
    [0.3, 0.4, 0.5, 0.7, 0.8, 0.9, 0.9, 0.9, 0.8, 0.7, 0.7, 0.6, 0.6, 0.5, 0.4, 0.1, 0, 0],
    [0.2, 0.2, 0.3, 0.3, 0.4, 0.4, 0.4, 0.4, 0.4, 0.3, 0.3, 0.3, 0.3, 0.2, 0.2, 0.1, 0, 0],
    [1.4, 1.5, 1.9, 2.4, 2.8, 3, 3, 2.8, 2.4, 1.9, 1.4, 1.1, 0.9, 0.7, 0.5, 0.1, 0, 0],
    [2, 2.2, 2.8, 3.4, 3.8, 3.9, 3.7, 3.2, 2.5, 1.8, 1.3, 1, 0.8, 0.6, 0.4, 0.1, 0, 0],
    [1.1, 1.2, 1.6, 2.1, 2.5, 2.7, 2.7, 2.5, 2.1, 1.7, 1.3, 1, 0.8, 0.6, 0.4, 0.1, 0, 0],
    [3, 3.2, 3.8, 4.6, 5.2, 5.4, 5.1, 4.4, 3.4, 2.5, 1.7, 1.2, 0.9, 0.6, 0.4, 0.1, 0, 0],
    [4.6, 4.8, 5.5, 6.3, 6.6, 6.3, 5.5, 4.4, 3.2, 2.2, 1.5, 1.1, 0.8, 0.6, 0.4, 0.1, 0, 0],
    [0.5, 0.6, 0.8, 1, 1.2, 1.3, 1.3, 1.2, 1.1, 1, 0.9, 0.8, 0.7, 0.6, 0.4, 0.1, 0, 0],
    [2.4, 2.6, 3.2, 3.9, 4.4, 4.6, 4.4, 3.8, 3, 2.2, 1.5, 1.1, 0.8, 0.6, 0.4, 0.1, 0, 0],
    [3.9, 4.1, 4.8, 5.8, 6.5, 6.6, 6.1, 5.1, 3.8, 2.7, 1.8, 1.2, 0.9, 0.6, 0.4, 0.1, 0, 0],
]

PANEL_TITLES = ["Three robots", "Four robots", "Two hundred robots", "One thousand robots"]
ROW_LABELS = ["Communication\ngraph", "Straight\nline", "Circular"]
MAIN_TITLE = "Generalization tests by transferring the learned policy from 3 robots to 1,000"

# ---------------------------------------------------------------- style
sns.set_theme(style="white")
plt.rcParams["font.family"] = ["Liberation Serif", "DejaVu Serif"]
plt.rcParams["mathtext.fontset"] = "stix"

W, H = 1262, 691
fig = plt.figure(figsize=(W / 100, H / 100), dpi=100)
fig.patch.set_facecolor("white")


def ax_at(l, t, r, b):
    return fig.add_axes([l / W, 1 - b / H, (r - l) / W, (b - t) / H])


def draw(ax, t, curves, lw=1.5):
    names = [f"R{i:04d}" for i in range(len(curves))]
    df = pd.DataFrame({
        "t": np.tile(np.asarray(t, float), len(curves)),
        "r": np.concatenate([np.asarray(c, float) for c in curves]),
        "robot": np.repeat(names, len(t)),
    })
    pal = [MATLAB[i % 7] for i in range(len(curves))]
    sns.lineplot(data=df, x="t", y="r", hue="robot", hue_order=names, palette=pal,
                 estimator=None, sort=False, legend=False, ax=ax, linewidth=lw)
    ax.set_xlabel("")
    ax.set_ylabel("")


def style(ax, xlim, ylim, xticks, yticks):
    ax.set_xlim(*xlim)
    ax.set_ylim(*ylim)
    ax.set_xticks(xticks)
    ax.set_yticks(yticks)
    ax.grid(True, color="#dedede", lw=0.8)
    ax.set_axisbelow(True)
    for s in ax.spines.values():
        s.set_color("#262626")
        s.set_linewidth(0.9)
    ax.tick_params(direction="in", length=3.5, width=0.7, top=True, right=True,
                   labelsize=11.5, labelcolor="#262626", color="#262626", pad=3)


def legend(ax, labels, left, top, fs, edge, elw, ls, hl, bp, dots_after=None):
    handles = [Line2D([], [], color=MATLAB[i], lw=1.6) for i in range(len(labels))]
    labs = list(labels)
    if dots_after is not None:
        handles.insert(dots_after, Line2D([], [], color="black", lw=1.1, ls=(0, (1, 1.5))))
        labs.insert(dots_after, "")
        handles[-1] = Line2D([], [], color=MATLAB[3], lw=1.6)
    leg = ax.legend(handles, labs, loc="upper left", bbox_to_anchor=(left / W, 1 - top / H),
                    bbox_transform=fig.transFigure, borderaxespad=0, frameon=True,
                    fancybox=False, framealpha=1, edgecolor=edge, fontsize=fs,
                    labelspacing=ls, handlelength=hl, handletextpad=0.4, borderpad=bp)
    leg.get_frame().set_linewidth(elw)


# ---------------------------------------------------------------- panels
a1 = ax_at(143, 197, 392, 367)
draw(a1, T3S, [S3_R1, S3_R2, S3_R3], lw=1.6)
style(a1, (0, 40), (0, 10.4), [0, 10, 20, 30, 40], [0, 5, 10])
legend(a1, ["Robot 1", "Robot 2", "Robot 3"], 287, 205, 10.5, "#262626", 0.9, 0.18, 2.7, 0.25)

a2 = ax_at(432, 197, 673, 363)
draw(a2, T4S, [S4_R1, S4_R2, S4_R3, S4_R4], lw=1.6)
style(a2, (0, 40), (0, 10), [0, 10, 20, 30, 40], [0, 5, 10])
legend(a2, ["Robot 1", "Robot 2", "Robot 3", "Robot 4"], 572, 205, 10.5, "#262626", 0.9, 0.18, 2.7, 0.25)

a3 = ax_at(714, 197, 951, 365)
draw(a3, T200S, S200)
style(a3, (0, 40), (0, 35), [10, 20, 30, 40], [10, 20, 30])
legend(a3, ["Robot 1", "Robot 2", "Robot 3", "Robot 200"], 829, 209, 9.5, "#1c2a48", 1.5, 0.1, 2.6, 0.35, dots_after=3)

a4 = ax_at(1000, 198, 1240, 363)
draw(a4, T1000S, S1000)
style(a4, (0, 60), (0, 30), [0, 20, 40, 60], [0, 10, 20, 30])
legend(a4, ["Robot 1", "Robot 2", "Robot 3", "Robot 1000"], 1122, 210, 9.5, "#1c2a48", 1.5, 0.1, 2.6, 0.35, dots_after=3)

b1 = ax_at(143, 431, 393, 601)
draw(b1, T3C, [C3_R1, C3_R2, C3_R3], lw=1.6)
style(b1, (0, 40), (0, 10), [0, 10, 20, 30, 40], [0, 5, 10])

b2 = ax_at(433, 432, 672, 600)
draw(b2, T4C, [C4_R1, C4_R2, C4_R3, C4_R4], lw=1.6)
style(b2, (0, 40), (0, 10), [0, 10, 20, 30, 40], [0, 5, 10])

b3 = ax_at(714, 431, 950, 601)
draw(b3, T200C, C200)
style(b3, (0, 80), (0, 20), [20, 40, 60, 80], [0, 5, 10, 15])

b4 = ax_at(999, 432, 1239, 599)
draw(b4, T1000C, C1000)
style(b4, (0, 80), (0, 15), [0, 20, 40, 60, 80], [0, 5, 10, 15])

# titles, axis labels
for txt, x in zip(PANEL_TITLES, [268, 553, 833, 1137]):
    fig.text(x / W, 1 - 186 / H, txt, ha="center", va="center", fontsize=13)
for x, y in [(268, 403), (553, 397), (833, 400), (1122, 400),
             (268, 638), (552, 630), (833, 638), (1120, 637)]:
    fig.text(x / W, 1 - y / H, "Time (s)", ha="center", va="center", fontsize=13)
for x, y in [(110, 280), (402, 264), (686, 285), (977, 292),
             (105, 515), (405, 515), (684, 518), (975, 518)]:
    fig.text(x / W, 1 - y / H, r"$r_i$", ha="center", va="center", fontsize=14, rotation=90)

fig.text(615 / W, 1 - 18 / H, MAIN_TITLE, ha="center", va="center", fontsize=18)
fig.text(10 / W, 1 - 97 / H, ROW_LABELS[0], ha="left", va="center", fontsize=12, linespacing=1.2)
fig.text(17 / W, 1 - 284 / H, ROW_LABELS[1], ha="left", va="center", fontsize=12, linespacing=1.15)
fig.text(12 / W, 1 - 527 / H, ROW_LABELS[2], ha="left", va="center", fontsize=12)
fig.text(1162 / W, 1 - 677 / H, "Transferred performance", ha="center", va="center",
         fontsize=12, color="#ff0000")

# ---------------------------------------------------------------- overlay: graphs and dashed frame
ov = fig.add_axes([0, 0, 1, 1], zorder=10)
ov.set_xlim(0, W)
ov.set_ylim(H, 0)
ov.axis("off")
ov.patch.set_alpha(0)

R = 12.5
SHR = R * 0.72 + 0.8


def node(x, y, lab, fs=9.5, leader=False):
    if leader:
        ov.add_patch(Circle((x, y), R, fc="#E7E6E6", ec="#5b7fae", lw=0.9, ls=(0, (1, 1.2))))
        col = "#111111"
    else:
        ov.add_patch(Circle((x, y), R, fc="#00B0F0", ec="#2E75B6", lw=0.9))
        col = "white"
    ov.text(x, y + 0.5, lab, ha="center", va="center", fontsize=fs, color=col,
            family=["Open Sans", "DejaVu Sans"])


def link(p, q, both=True):
    ov.annotate("", xy=q, xytext=p, xycoords="data",
                arrowprops=dict(arrowstyle="<|-|>" if both else "-|>", color="black",
                                lw=0.6, mutation_scale=5, shrinkA=SHR, shrinkB=SHR))


def big_arrow(x0, x1, y):
    ov.annotate("", xy=(x1, y), xytext=(x0, y), xycoords="data",
                arrowprops=dict(arrowstyle="-|>", color="#F8CBAD", lw=2.2,
                                mutation_scale=13, shrinkA=0, shrinkB=0))


# graph 1 (3 robots)
g1 = {"0": (230, 98), "1": (271, 72), "3": (312, 96.5), "2": (271, 120)}
link(g1["0"], g1["1"], both=False)
link(g1["1"], g1["2"])
link(g1["1"], g1["3"])
link(g1["2"], g1["3"])
for k, (x, y) in g1.items():
    node(x, y, k, leader=(k == "0"))
ov.text(225, 120, "Leader", ha="center", va="center", fontsize=11)

# graph 2 (4 robots)
g2 = {"2": (513, 71), "1": (562, 71), "3": (513, 118.5), "4": (562, 118.5), "0": (602, 96)}
link(g2["0"], g2["1"], both=False)
link(g2["1"], g2["2"])
link(g2["1"], g2["4"], both=False)
link(g2["2"], g2["3"])
link(g2["3"], g2["4"])
for k, (x, y) in g2.items():
    node(x, y, k, leader=(k == "0"))

# graph 3 (200 robots)
xs3 = [733, 783, 832, 881.5]
top3 = ["4", "3", "2", "1"]
bot3 = ["...", "198", "199", "200"]
p3 = {}
for x, a, b in zip(xs3, top3, bot3):
    p3["t" + a] = (x, 75.5)
    p3["b" + b] = (x, 122.5)
p3["0"] = (924, 99)
link(p3["0"], p3["t1"], both=False)
for i in range(3):
    link(p3["t" + top3[i]], p3["t" + top3[i + 1]])
    link(p3["b" + bot3[i]], p3["b" + bot3[i + 1]])
link(p3["t4"], p3["b..."])
link(p3["t1"], p3["b200"], both=False)
for k, (x, y) in p3.items():
    lab = k if k == "0" else k[1:]
    fs = 9.5 if len(lab) == 1 else (7.2 if lab != "..." else 8)
    node(x, y, lab, fs=fs, leader=(k == "0"))

# graph 4 (1000 robots)
xs4 = [1043, 1093, 1143, 1192.5]
p4 = {"4": (xs4[0], 57), "3": (xs4[1], 57), "2": (xs4[2], 57), "1": (xs4[3], 57),
      "5": (xs4[0], 102), "1000": (xs4[3], 102),
      "d1": (xs4[0], 147.5), "d2": (xs4[1], 147.5), "998": (xs4[2], 147.5), "999": (xs4[3], 147.5),
      "0": (1234.5, 79.5)}
link(p4["0"], p4["1"], both=False)
for a, b in [("1", "2"), ("2", "3"), ("3", "4"), ("4", "5"), ("5", "d1"), ("d1", "d2"),
             ("d2", "998"), ("998", "999"), ("999", "1000")]:
    link(p4[a], p4[b])
link(p4["1"], p4["1000"], both=False)
for k, (x, y) in p4.items():
    lab = "..." if k.startswith("d") else k
    fs = 9.5 if len(lab) == 1 else (8 if lab == "..." else (7.2 if len(lab) == 3 else 6.2))
    node(x, y, lab, fs=fs, leader=(k == "0"))

big_arrow(363, 415, 97)
big_arrow(652, 700, 98)
big_arrow(946, 1002, 97)

# dashed frame
ov.plot([397, 1260, 1260, 81, 81, 397, 397], [37, 37, 688, 688, 412, 412, 37],
        color="#222222", lw=0.9, ls=(0, (3, 2)))

fig.savefig("out.png", dpi=100, facecolor="white")
